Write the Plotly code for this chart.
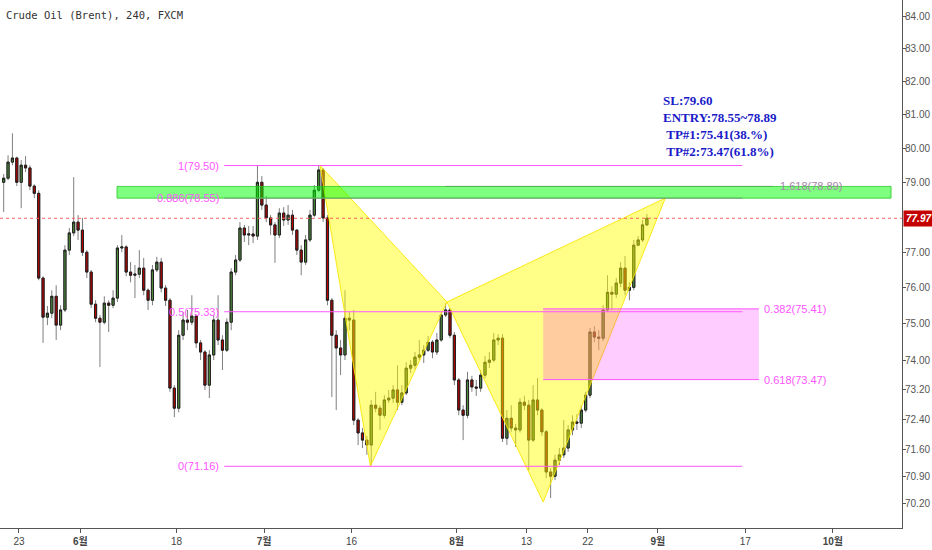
import math
import plotly.graph_objects as go

# Brent 4h chart, resampled to two candles per trading day (bar index on x)
opens = [79.01, 79.13, 79.60, 79.72, 79.01, 79.51, 79.43, 78.90, 78.69, 76.27,
         75.18, 75.29, 75.76, 74.96, 75.38, 77.06, 77.55, 77.86, 77.63, 77.00,
         76.44, 75.54, 75.15, 75.04, 75.57, 75.51, 75.71, 77.12, 77.15, 76.44,
         76.35, 76.38, 76.55, 75.93, 75.65, 76.50, 76.72, 75.99, 75.65, 73.24,
         72.70, 74.68, 75.10, 75.04, 75.21, 74.47, 74.22, 73.32, 74.14, 75.10,
         74.55, 74.27, 75.04, 76.44, 76.78, 77.69, 77.49, 77.52, 77.46, 79.01,
         78.35, 77.98, 77.78, 77.49, 78.12, 77.92, 78.06, 77.63, 77.06, 76.72,
         77.35, 78.06, 78.78, 79.37, 77.98, 75.65, 74.68, 74.33, 74.14, 75.15,
         75.10, 72.38, 72.04, 71.85, 71.72, 72.78, 72.70, 72.51, 72.92, 72.97,
         73.19, 72.86, 73.11, 73.78, 73.86, 74.08, 74.14, 74.27, 74.49, 74.22,
         74.55, 75.24, 75.38, 74.68, 73.46, 72.65, 72.51, 73.46, 73.27, 73.24,
         73.59, 73.94, 74.00, 74.55, 74.60, 71.90, 72.43, 72.17, 72.12, 72.86,
         72.78, 71.85, 72.92, 72.65, 72.07, 71.01, 70.90, 71.32, 71.46, 71.64,
         72.12, 72.33, 72.30, 72.65, 73.05, 74.77, 74.63, 74.60, 75.38, 75.87,
         75.82, 76.13, 76.55, 75.93, 76.01, 77.20, 77.35, 77.78]
highs = [79.25, 79.80, 80.45, 79.76, 79.66, 79.78, 79.51, 78.95, 78.78, 76.32,
         75.49, 75.93, 76.07, 75.51, 77.20, 77.69, 79.16, 78.06, 77.98, 77.06,
         76.50, 75.65, 75.24, 75.76, 75.65, 75.93, 77.20, 77.49, 77.20, 76.72,
         76.64, 77.06, 76.84, 75.98, 76.64, 76.87, 76.84, 76.07, 75.71, 73.32,
         74.82, 75.32, 75.38, 75.79, 75.26, 74.55, 74.27, 74.27, 75.24, 75.79,
         74.68, 75.15, 76.55, 76.92, 77.86, 77.78, 77.75, 77.75, 79.51, 79.19,
         78.61, 78.06, 77.86, 78.26, 78.29, 78.35, 78.21, 77.66, 77.20, 77.49,
         78.21, 78.93, 79.51, 79.43, 78.06, 75.71, 74.82, 74.55, 75.93, 75.32,
         75.38, 72.43, 72.17, 71.96, 72.92, 73.14, 72.78, 73.05, 73.19, 73.32,
         73.86, 73.32, 73.94, 74.00, 74.22, 74.55, 74.41, 74.66, 74.55, 74.74,
         75.32, 75.57, 75.43, 74.77, 73.51, 72.78, 73.68, 73.57, 73.46, 73.73,
         74.11, 74.22, 74.74, 74.71, 74.71, 72.65, 72.78, 72.28, 72.97, 73.03,
         72.92, 73.32, 73.51, 72.70, 72.12, 71.11, 71.46, 71.64, 72.38, 72.25,
         72.51, 72.54, 72.78, 73.14, 74.88, 74.93, 74.82, 75.51, 76.35, 76.04,
         76.27, 76.72, 76.89, 76.15, 77.35, 77.46, 77.92, 78.09]
lows = [78.15, 79.07, 79.51, 78.90, 78.26, 79.31, 78.78, 78.55, 76.21, 74.47,
        74.96, 75.15, 74.55, 74.82, 75.32, 76.92, 77.46, 77.35, 76.89, 76.27,
        75.43, 75.04, 73.81, 74.98, 74.77, 75.43, 75.60, 77.00, 76.32, 76.15,
        75.71, 76.27, 75.79, 75.38, 75.51, 76.44, 75.87, 75.49, 73.14, 72.46,
        72.59, 74.55, 74.82, 74.96, 74.33, 74.00, 73.19, 72.97, 74.00, 74.41,
        73.73, 74.22, 74.82, 76.35, 76.72, 77.29, 77.20, 77.26, 77.35, 78.21,
        77.86, 77.49, 76.70, 77.40, 77.75, 77.78, 77.49, 76.92, 76.35, 76.64,
        77.29, 78.01, 78.72, 77.86, 75.51, 73.00, 72.65, 73.59, 74.00, 74.82,
        72.25, 71.72, 71.64, 71.46, 71.19, 72.59, 72.12, 72.43, 72.84, 72.84,
        72.65, 72.78, 73.05, 73.65, 73.75, 74.00, 73.92, 74.22, 74.05, 74.14,
        74.50, 75.18, 74.60, 73.32, 72.51, 71.85, 72.43, 73.14, 73.03, 73.14,
        73.51, 73.78, 73.94, 74.41, 71.80, 71.72, 72.07, 71.67, 72.05, 72.65,
        71.06, 71.80, 72.51, 71.96, 70.85, 70.33, 70.80, 71.19, 71.38, 71.54,
        71.98, 72.12, 72.17, 72.59, 72.97, 74.49, 74.27, 74.52, 75.32, 75.38,
        75.71, 76.01, 75.79, 75.65, 75.93, 77.18, 77.29, 77.75]
closes = [79.13, 79.60, 79.72, 79.01, 79.51, 79.43, 78.90, 78.69, 76.27, 75.18,
          75.29, 75.76, 74.96, 75.38, 77.06, 77.55, 77.86, 77.63, 77.00, 76.44,
          75.54, 75.15, 75.04, 75.57, 75.51, 75.71, 77.12, 77.15, 76.44, 76.35,
          76.38, 76.55, 75.93, 75.65, 76.50, 76.72, 75.99, 75.65, 73.24, 72.70,
          74.68, 75.10, 75.04, 75.21, 74.47, 74.22, 73.32, 74.14, 75.10, 74.55,
          74.27, 75.04, 76.44, 76.78, 77.69, 77.49, 77.52, 77.46, 79.01, 78.35,
          77.98, 77.78, 77.49, 78.12, 77.92, 78.06, 77.63, 77.06, 76.72, 77.35,
          78.06, 78.78, 79.37, 77.98, 75.65, 74.68, 74.33, 74.14, 75.15, 75.10,
          72.38, 72.04, 71.85, 71.72, 72.78, 72.70, 72.51, 72.92, 72.97, 73.19,
          72.86, 73.11, 73.78, 73.86, 74.08, 74.14, 74.27, 74.49, 74.22, 74.55,
          75.24, 75.38, 74.68, 73.46, 72.65, 72.51, 73.46, 73.27, 73.24, 73.59,
          73.94, 74.00, 74.55, 74.60, 71.90, 72.43, 72.17, 72.12, 72.86, 72.78,
          71.85, 72.92, 72.65, 72.07, 71.01, 70.90, 71.32, 71.46, 71.64, 72.12,
          72.33, 72.30, 72.65, 73.05, 74.77, 74.63, 74.60, 75.38, 75.87, 75.82,
          76.13, 76.55, 75.93, 76.01, 77.20, 77.35, 77.78, 77.97]

# date ticks (bar positions) and their labels
tick_pos = [3.5, 17.5, 39.5, 59.5, 79.5, 103.5, 119.5, 133.5, 149.5, 169.5, 189.5]
tick_text = ["23", "<b>6월</b>", "18", "<b>7월</b>", "16", "<b>8월</b>", "13", "22",
             "<b>9월</b>", "17", "<b>10월</b>"]
price_ticks = [84, 83, 82, 81, 80, 79, 77, 76, 75, 74, 73.2, 72.4, 71.6, 70.9, 70.2]

last_price = 77.97

# fibonacci retracement (X -> A)
fib_ratios = ["1", "0.886", "0.5", "0"]
fib_prices = [79.50, 78.55, 75.33, 71.16]
fib_span = (50.4, 168.8)

# extension / targets
ext_label, ext_price, ext_span = "1.618", 78.89, (100.9, 175.8)
tgt_ratios = ["0.382", "0.618"]
tgt_prices = [75.41, 73.47]
tgt_span = (123.3, 172.6)

# entry zone
zone_low, zone_high, zone_span = 78.55, 78.89, (25.9, 202.8)

# harmonic pattern points X, A, B, C, D (bar position, price)
pat_x = [72.3, 83.8, 101.3, 123.3, 151.2]
pat_y = [79.50, 71.16, 75.60, 70.23, 78.55]

plan_lines = ["SL:79.60", "ENTRY:78.55~78.89", "\u00a0TP#1:75.41(38.%)", "\u00a0TP#2:73.47(61.8%)"]

PINK = "#ff55ff"
AXIS = "#555555"

bars = list(range(len(closes)))
body_top = [max(o, c) for o, c in zip(opens, closes)]
body_bot = [min(o, c) for o, c in zip(opens, closes)]

fig = go.Figure()
# gray wicks
fig.add_trace(go.Candlestick(
    x=bars, open=opens, high=highs, low=lows, close=closes,
    increasing=dict(line=dict(color="#7f7f7f", width=1), fillcolor="#7f7f7f"),
    decreasing=dict(line=dict(color="#7f7f7f", width=1), fillcolor="#7f7f7f"),
    whiskerwidth=0, hoverinfo="skip",
))
# bodies with dark outline
fig.add_trace(go.Candlestick(
    x=bars, open=opens, high=body_top, low=body_bot, close=closes,
    increasing=dict(line=dict(color="#1e1e1e", width=1), fillcolor="#4e8a3a"),
    decreasing=dict(line=dict(color="#1e1e1e", width=1), fillcolor="#b80000"),
    whiskerwidth=0, hoverinfo="skip",
))


def hline(x0, x1, y, color, width=1, dash="solid"):
    return dict(type="line", xref="x", yref="y", x0=x0, x1=x1, y0=y, y1=y,
                line=dict(color=color, width=width, dash=dash), layer="above")


shapes = []
# yellow triangles X-A-B and B-C-D
for a, b, c in [(0, 1, 2), (2, 3, 4)]:
    path = (f"M {pat_x[a]},{pat_y[a]} L {pat_x[b]},{pat_y[b]} "
            f"L {pat_x[c]},{pat_y[c]} Z")
    shapes.append(dict(type="path", path=path, xref="x", yref="y",
                       fillcolor="rgba(255,255,0,0.47)",
                       line=dict(color="rgba(250,230,0,0.9)", width=1), layer="above"))
# target box
shapes.append(dict(type="rect", xref="x", yref="y", x0=tgt_span[0], x1=tgt_span[1],
                   y0=tgt_prices[1], y1=tgt_prices[0], fillcolor="rgba(255,0,255,0.2)",
                   line=dict(width=0), layer="above"))
for p in tgt_prices:
    shapes.append(hline(tgt_span[0], tgt_span[1], p, PINK))
for p in fib_prices:
    shapes.append(hline(fib_span[0], fib_span[1], p, PINK))
shapes.append(hline(ext_span[0], ext_span[1], ext_price, PINK))
# entry zone
shapes.append(dict(type="rect", xref="x", yref="y", x0=zone_span[0], x1=zone_span[1],
                   y0=zone_low, y1=zone_high, fillcolor="rgba(0,255,0,0.5)",
                   line=dict(color="rgba(40,200,40,0.8)", width=1), layer="above"))
# last price
shapes.append(dict(type="line", xref="paper", yref="y", x0=0, x1=1,
                   y0=last_price, y1=last_price,
                   line=dict(color="#ff6060", width=1, dash="dot"), layer="above"))

lab_font = dict(family="Liberation Sans, Arial, sans-serif", size=11, color=PINK)
annotations = []
for r, p in zip(fib_ratios, fib_prices):
    annotations.append(dict(x=49.7, y=math.log10(p), xref="x", yref="y",
                            text=f"{r}({p:.2f})", showarrow=False,
                            xanchor="right", yanchor="middle", font=lab_font))
for r, p in zip(tgt_ratios, tgt_prices):
    annotations.append(dict(x=173.3, y=math.log10(p), xref="x", yref="y",
                            text=f"{r}({p:.2f})", showarrow=False,
                            xanchor="left", yanchor="middle", font=lab_font))
annotations.append(dict(x=177.0, y=math.log10(ext_price), xref="x", yref="y",
                        text=f"{ext_label}({ext_price:.2f})", showarrow=False,
                        xanchor="left", yanchor="middle",
                        font=dict(family=lab_font["family"], size=11, color="#a585a8")))
annotations.append(dict(x=150.3, y=math.log10(80.66), xref="x", yref="y",
                        text="<br>".join(plan_lines), showarrow=False, align="left",
                        xanchor="left", yanchor="middle",
                        font=dict(family="Liberation Serif, Times New Roman, serif",
                                  size=13, color="#1a1ac8", weight="bold")))
annotations.append(dict(x=1, y=math.log10(last_price), xref="paper", yref="y",
                        text=f"<b><i>{last_price:.2f}</i></b>", showarrow=False,
                        xanchor="left", yanchor="middle", xshift=1,
                        bgcolor="#c40000", borderpad=2,
                        font=dict(family="Liberation Sans, Arial, sans-serif",
                                  size=10, color="white")))

fig.update_layout(
    width=932,
    height=550,
    paper_bgcolor="white",
    plot_bgcolor="white",
    showlegend=False,
    hovermode=False,
    margin=dict(l=0, r=30, t=0, b=22),
    title=dict(text="Crude Oil (Brent), 240, FXCM", x=0.0064, xanchor="left",
               y=1 - 15 / 550, yanchor="middle",
               font=dict(family="DejaVu Sans Mono, monospace", size=10.5, color="#333333")),
    shapes=shapes,
    annotations=annotations,
    xaxis=dict(
        range=[-0.84, 205.3],
        rangeslider=dict(visible=False),
        tickmode="array", tickvals=tick_pos, ticktext=tick_text,
        ticks="outside", ticklen=4, tickcolor=AXIS,
        showline=True, linecolor=AXIS, linewidth=1, mirror=False,
        showgrid=False, zeroline=False,
        tickfont=dict(family="Liberation Sans, Noto Sans CJK KR, sans-serif",
                      size=10, color="#444444"),
    ),
    yaxis=dict(
        type="log", side="right",
        range=[math.log10(69.56), math.log10(84.50)],
        tickmode="array", tickvals=price_ticks,
        ticktext=[f"{v:.2f}" for v in price_ticks],
        ticks="outside", ticklen=3, tickcolor=AXIS, ticklabelstandoff=-3,
        showline=True, linecolor=AXIS, linewidth=1,
        showgrid=False, zeroline=False,
        tickfont=dict(family="Liberation Sans, Arial, sans-serif", size=10, color="#555555"),
    ),
)

# page body has a default 8px margin; drop it so the chart fills the window
fig.write_html("out.html", config={"displayModeBar": False},
               post_script="document.body.style.margin='0px';")
